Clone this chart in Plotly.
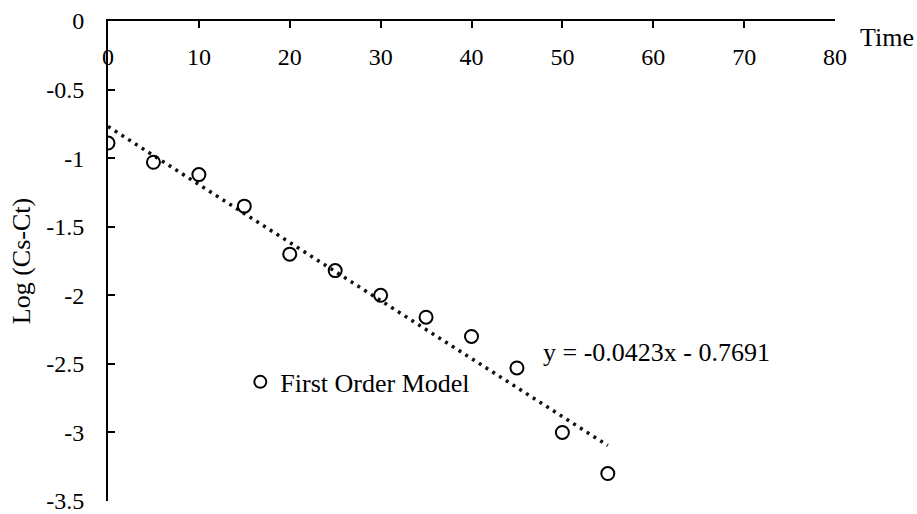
import plotly.graph_objects as go

# Sampling times and measured log concentration differences
time = [0, 5, 10, 15, 20, 25, 30, 35, 40, 45, 50, 55]
log_cs_ct = [-0.89, -1.03, -1.12, -1.35, -1.70, -1.82, -2.00, -2.16, -2.30, -2.53, -3.00, -3.30]

# Linear fit coefficients (first order model)
slope = -0.0423
intercept = -0.7691
fit_x = [0, 55]
fit_y = [slope * x + intercept for x in fit_x]

# Axis ticks
x_ticks = [0, 10, 20, 30, 40, 50, 60, 70, 80]
x_tick_text = ["0", "10", "20", "30", "40", "50", "60", "70", "80"]
y_ticks = [0, -0.5, -1, -1.5, -2, -2.5, -3, -3.5]
y_tick_text = ["0", "-0.5", "-1", "-1.5", "-2", "-2.5", "-3", "-3.5"]

FONT = "Times New Roman, Liberation Serif, serif"
TICK_FONT = dict(family=FONT, size=24, color="black")
TEXT_FONT = dict(family=FONT, size=26, color="black")

fig = go.Figure()

fig.add_trace(go.Scatter(
    x=fit_x, y=fit_y, mode="lines",
    line=dict(color="#111111", width=3.5, dash="3px,5px"),
    showlegend=False, hoverinfo="skip",
))

fig.add_trace(go.Scatter(
    x=time, y=log_cs_ct, mode="markers",
    name="First Order Model",
    marker=dict(symbol="circle-open", size=13, color="black",
                line=dict(color="black", width=2)),
))

# empty trace so the label-carrying companion x axis gets drawn
fig.add_trace(go.Scatter(
    x=[], y=[], xaxis="x2", yaxis="y",
    showlegend=False, hoverinfo="skip",
))

fig.add_annotation(
    x=47.6, y=-2.416, xref="x", yref="y",
    text=f"y = {slope}x - {abs(intercept)}",
    showarrow=False, xanchor="left", yanchor="middle",
    font=TEXT_FONT,
)

fig.add_annotation(
    x=1.032, y=0.965, xref="paper", yref="paper",
    text="Time", showarrow=False, xanchor="left", yanchor="middle",
    font=TEXT_FONT,
)

fig.update_layout(
    width=917, height=514,
    margin=dict(l=108, r=82, t=21, b=13, autoexpand=False),
    paper_bgcolor="white", plot_bgcolor="white",
    font=dict(family=FONT, size=24, color="black"),
    legend=dict(
        x=0.182, y=0.248, xanchor="left", yanchor="middle",
        bgcolor="rgba(0,0,0,0)", itemsizing="constant",
        font=TEXT_FONT,
    ),
    # x axis: line and tick marks along the top edge (y = 0)
    xaxis=dict(
        range=[0, 80], side="top", automargin=False,
        tickvals=x_ticks, showticklabels=False,
        ticks="inside", ticklen=7, tickwidth=2, tickcolor="black",
        showline=True, linecolor="black", linewidth=2,
        showgrid=False, zeroline=False,
    ),
    # companion axis carrying the x tick labels just below the top line
    xaxis2=dict(
        range=[0, 80], overlaying="x", anchor="free", position=1.0,
        side="bottom", automargin=False,
        tickvals=x_ticks, ticktext=x_tick_text, tickfont=TICK_FONT,
        ticks="", ticklabelstandoff=19, ticklabeloverflow="allow",
        showline=False, showgrid=False, zeroline=False,
    ),
    yaxis=dict(
        range=[-3.5, 0], automargin=False,
        tickvals=y_ticks, ticktext=y_tick_text, tickfont=TICK_FONT,
        ticks="inside", ticklen=7, tickwidth=2, tickcolor="black",
        ticklabelstandoff=17, ticklabeloverflow="allow",
        showline=True, linecolor="black", linewidth=2,
        showgrid=False, zeroline=False,
        title=dict(text="Log (Cs-Ct)", standoff=8, font=TEXT_FONT),
    ),
)

fig.write_html("out.html")
